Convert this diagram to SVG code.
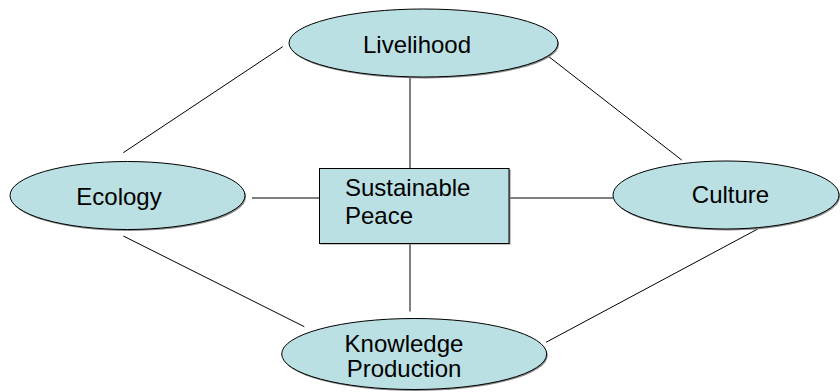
<svg xmlns="http://www.w3.org/2000/svg" width="840" height="392" viewBox="0 0 840 392">
  <style>
    .shape { fill: #BBE0E3; stroke: #000; stroke-width: 1; }
    .shadow { fill: #8a8a8a; stroke: none; }
    .label { font-family: "Liberation Sans", Arial, sans-serif; font-size: 24px; fill: #000; }
    .mid { text-anchor: middle; }
    .link { stroke: #000; stroke-width: 1; fill: none; }
  </style>
  <rect width="840" height="392" fill="#fff"/>

  <g id="connectors">
    <line class="link" x1="282.7" y1="46.7" x2="123.3" y2="152.7"/>
    <line class="link" x1="546.7" y1="55" x2="681.7" y2="160"/>
    <line class="link" x1="410" y1="77" x2="410" y2="168"/>
    <line class="link" x1="252" y1="198" x2="319" y2="198"/>
    <line class="link" x1="509" y1="198" x2="613" y2="198"/>
    <line class="link" x1="410" y1="243.5" x2="410" y2="311.5"/>
    <line class="link" x1="123.3" y1="236" x2="304.3" y2="326.7"/>
    <line class="link" x1="757.7" y1="229" x2="546" y2="342.3"/>
  </g>

  <g id="livelihood">
    <ellipse class="shadow" cx="424.5" cy="44.5" rx="134.5" ry="34"/>
    <ellipse class="shape" cx="423.5" cy="43" rx="134.5" ry="34"/>
    <text class="label mid" x="417" y="53">Livelihood</text>
  </g>

  <g id="ecology">
    <ellipse class="shadow" cx="128.5" cy="197" rx="117.5" ry="34"/>
    <ellipse class="shape" cx="127.5" cy="195.5" rx="117.5" ry="34"/>
    <text class="label mid" x="119" y="205">Ecology</text>
  </g>

  <g id="sustainable-peace">
    <rect class="shadow" x="320.5" y="169.5" width="190" height="75"/>
    <rect class="shape" x="319.5" y="168.5" width="189.5" height="75"/>
    <text class="label" x="345" y="196">Sustainable</text>
    <text class="label" x="345" y="224">Peace</text>
  </g>

  <g id="culture">
    <ellipse class="shadow" cx="727" cy="196.5" rx="113" ry="34"/>
    <ellipse class="shape" cx="726" cy="195" rx="113" ry="34"/>
    <text class="label mid" x="730.5" y="203">Culture</text>
  </g>

  <g id="knowledge-production">
    <ellipse class="shadow" cx="415.2" cy="355.5" rx="132.5" ry="35.5"/>
    <ellipse class="shape" cx="414.2" cy="354" rx="132.5" ry="35.5"/>
    <text class="label mid" x="404" y="351.5">Knowledge</text>
    <text class="label mid" x="404" y="376.5">Production</text>
  </g>
</svg>
